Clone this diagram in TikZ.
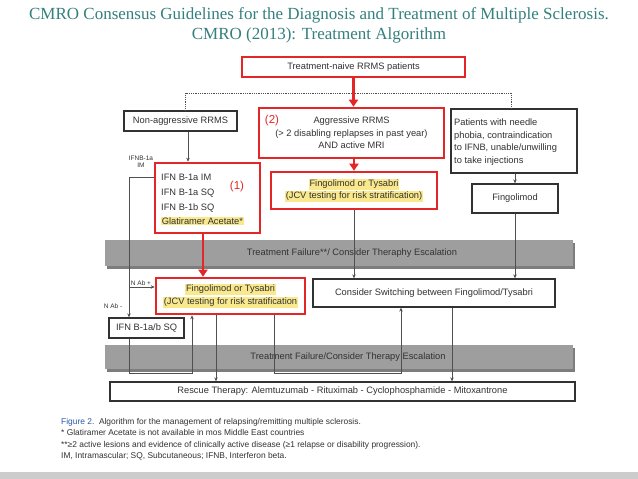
\documentclass[tikz,border=0pt]{standalone}
\usepackage{fontspec}
\setmainfont{Liberation Serif}
\setsansfont{Liberation Sans}
\usetikzlibrary{arrows.meta}
\definecolor{teal1}{RGB}{52,128,126}
\definecolor{redb}{RGB}{228,38,38}
\definecolor{hly}{RGB}{250,232,140}
\definecolor{bandc}{RGB}{158,158,158}
\definecolor{bandsh}{RGB}{125,125,125}
\definecolor{ln}{RGB}{80,80,80}
\definecolor{txt}{RGB}{50,50,50}
\definecolor{figblue}{RGB}{40,90,170}
\newcommand{\hlt}[1]{{\setlength{\fboxsep}{0.6pt}\colorbox{hly}{\strut #1}}}
\begin{document}
\begin{tikzpicture}[x=1pt,y=-1pt,
 every node/.style={font=\sffamily\fontsize{9.3}{11}\selectfont, text=txt},
 redbox/.style={draw=redb, line width=2.6pt, fill=white, inner sep=0pt, align=center},
 blkbox/.style={draw=txt, line width=1.3pt, fill=white, inner sep=0pt, align=center},
 conn/.style={draw=ln, line width=0.7pt, -{Stealth[length=4pt,width=3.5pt]}},
 redarrow/.style={draw=redb, line width=2.6pt, -{Triangle[length=7pt,width=9pt]}},
 dotline/.style={draw=ln, line width=0.8pt, densely dotted},
 bandbox/.style={fill=bandc, draw=none, inner sep=0pt},
 small/.style={font=\sffamily\fontsize{6.5}{7.5}\selectfont, inner sep=0pt},
 redlbl/.style={text=redb, font=\sffamily\fontsize{11.5}{12}\selectfont, inner sep=0pt},
 caption/.style={font=\sffamily\fontsize{8.4}{9}\selectfont, anchor=base west, inner sep=0pt}
]
\useasboundingbox (0,0) rectangle (638,479);
\fill[white] (0,0) rectangle (638,479);

% title
\node[font=\rmfamily\fontsize{17}{20.5}\selectfont, text=teal1, align=center] (title) at (319,25.5)
 {CMRO Consensus Guidelines for the Diagnosis and Treatment of Multiple Sclerosis.\\CMRO (2013): Treatment Algorithm};

% bands
\fill[bandsh] (107,243) rectangle (575,269);
\node[bandbox, minimum width=468pt, minimum height=26pt] (band1) at (339,253) {};
\node (band1t) at (352,253) {Treatment Failure**/ Consider Theraphy Escalation};
\fill[bandsh] (107,348) rectangle (575,372);
\node[bandbox, minimum width=468pt, minimum height=24pt] (band2) at (339,357) {};
\node (band2t) at (348,357) {Treatment Failure/Consider Therapy Escalation};

% boxes
\node[redbox, minimum width=223pt, minimum height=20pt] (naive) at (353.5,67) {Treatment-naive RRMS patients};
\node[blkbox, minimum width=113pt, minimum height=20pt] (nonagg) at (180.5,121) {Non-aggressive RRMS};
\node[redbox, minimum width=185pt, minimum height=50pt, font=\sffamily\fontsize{9.3}{12.5}\selectfont] (aggr) at (351.5,133)
 {Aggressive RRMS\\(> 2 disabling replapses in past year)\\AND active MRI};
\node[blkbox, minimum width=126pt, minimum height=64pt] (patients) at (514,141) {};
\node[anchor=west, align=left, inner sep=0pt, font=\sffamily\fontsize{9.3}{12.7}\selectfont] (patientst) at (454,142)
 {Patients with needle\\phobia, contraindication\\to IFNB, unable/unwilling\\to take injections};
\node[redbox, minimum width=166pt, minimum height=37pt, font=\sffamily\fontsize{9.3}{9.5}\selectfont] (fingtop) at (354,190.5)
 {\hlt{Fingolimod or Tysabri}\\[0.5pt]\hlt{(JCV testing for risk stratification)}};
\node[blkbox, minimum width=86pt, minimum height=29pt] (fingolimod) at (515,198.5) {Fingolimod};
\node[redbox, minimum width=105pt, minimum height=70pt] (ifn) at (207.5,198) {};
\node[anchor=west, align=left, inner sep=0pt, font=\sffamily\fontsize{9.3}{14.6}\selectfont] (ifnt) at (161,200)
 {IFN B-1a IM\\IFN B-1a SQ\\IFN B-1b SQ\\{\setlength{\fboxsep}{0.6pt}\colorbox{hly}{Glatiramer Acetate*}}};
\node[redbox, minimum width=149pt, minimum height=36pt, font=\sffamily\fontsize{9.3}{9.5}\selectfont] (fingbot) at (230.5,296)
 {\hlt{Fingolimod or Tysabri}\\[0.5pt]\hlt{(JCV testing for risk stratification}};
\node[blkbox, minimum width=242pt, minimum height=28pt] (switch) at (434,293) {Consider Switching between Fingolimod/Tysabri};
\node[blkbox, minimum width=75pt, minimum height=20pt] (sq) at (146.5,328) {IFN B-1a/b SQ};
\node[blkbox, minimum width=465pt, minimum height=19pt] (rescue) at (342.5,391.5)
 {Rescue Therapy: Alemtuzumab - Rituximab - Cyclophosphamide - Mitoxantrone};

% red labels
\node[redlbl] (n1) at (237,187) {(1)};
\node[redlbl] (n2) at (272,121) {(2)};

% small labels
\node[small, align=center] (lblim) at (141,162) {IFNB-1a\\IM};
\node[small] (nabp) at (141,283) {N Ab +};
\node[small] (nabm) at (113,306) {N Ab -};

% coordinates
\coordinate (d1) at (185,93);
\coordinate (d2) at (511,93);
\coordinate (c1) at (188,0);
\coordinate (v1) at (129,177);
\coordinate (v2) at (129,287);
\coordinate (c2) at (203,0);
\coordinate (l1) at (129,373);
\coordinate (l2) at (192,373);
\coordinate (c3) at (216,0);
\coordinate (l3) at (274,373);
\coordinate (l4) at (401,373);
\coordinate (c4) at (452,0);

% connectors
\draw[dotline] (nonagg.north -| d1) -- (d1) -- (d2) -- (patients.north -| d2);
\draw[redarrow] (naive.south) -- (naive.south |- aggr.north);
\draw[redarrow] (aggr.south -| fingtop.north) -- (fingtop.north);
\draw[conn] (nonagg.south -| c1) -- (ifn.north -| c1);
\draw[conn] (patients.south -| fingolimod.north) -- (fingolimod.north);
\draw[conn] (ifn.west |- v1) -- (v1) -- (v1 |- sq.north);
\draw[conn] (v2) -- (v2 -| fingbot.west);
\draw[redarrow] (ifn.south -| c2) -- (fingbot.north -| c2);
\draw[conn] (fingtop.south) -- (fingtop.south |- switch.north);
\draw[conn] (fingolimod.south) -- (fingolimod.south |- switch.north);
\draw[conn] (sq.south -| l1) -- (l1) -- (l2) -- (l2 |- fingbot.south);
\draw[conn] (fingbot.south -| c3) -- (rescue.north -| c3);
\draw[conn] (fingbot.south -| l3) -- (l3) -- (l4) -- (l4 |- switch.south);
\draw[conn] (switch.south -| c4) -- (rescue.north -| c4);

% caption
\node[caption] (cap1) at (61,424.5) {\textcolor{figblue}{Figure 2.}\ \ Algorithm for the management of relapsing/remitting multiple sclerosis.};
\node[caption] (cap2) at (61,435.5) {* Glatiramer Acetate is not available in mos Middle East countries};
\node[caption] (cap3) at (61,447.5) {**≥2 active lesions and evidence of clinically active disease (≥1 relapse or disability progression).};
\node[caption] (cap4) at (61,458.5) {IM, Intramascular; SQ, Subcutaneous; IFNB, Interferon beta.};

% slide edge
\fill[black!20] (0,472) rectangle (638,479);
\end{tikzpicture}
\end{document}
